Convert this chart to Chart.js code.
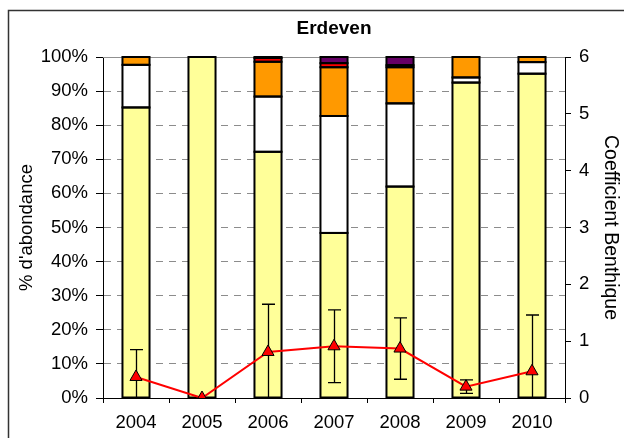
<!DOCTYPE html>
<html>
<head>
<meta charset="utf-8">
<title>Erdeven</title>
<script src="https://cdn.jsdelivr.net/npm/chart.js@4.4.1/dist/chart.umd.min.js"></script>
<style>
  html, body { margin: 0; padding: 0; background: #fff; overflow: hidden; }
  #wrap { width: 624px; height: 438px; }
</style>
</head>
<body>
<div id="wrap"><canvas id="chart" width="624" height="438"></canvas></div>
<script>
// years sampled
const years = ['2004', '2005', '2006', '2007', '2008', '2009', '2010'];

// % of abundance per ecological group (stacked to 100%)
const groupI   = [85.2, 100, 72.2, 48.4, 62.0, 92.5, 95.1];
const groupII  = [12.5, 0, 16.2, 34.3, 24.4, 1.5, 3.4];
const groupIII = [2.3, 0, 10.2, 14.3, 10.6, 6.0, 1.5];
const groupIV  = [0, 0, 1.1, 1.2, 0.6, 0, 0];
const groupV   = [0, 0, 0.3, 1.8, 2.4, 0, 0];

// benthic coefficient and its standard deviation
const coefBenthique = [0.37, 0, 0.81, 0.91, 0.87, 0.2, 0.47];
const coefErr       = [0.48, 0, 0.84, 0.64, 0.54, 0.12, 0.99];

const FONT = "'Liberation Sans', Arial, sans-serif";
const TICK_SIZE = 18.5;

// outer frame + solid top edge of the plot area
const framePlugin = {
    id: 'frame',
    beforeDraw(chart) {
        const ctx = chart.ctx;
        ctx.save();
        ctx.fillStyle = '#fff';
        ctx.fillRect(0, 0, chart.width, chart.height);
        ctx.strokeStyle = '#333';
        ctx.lineWidth = 1.5;
        ctx.beginPath();
        ctx.moveTo(8.5, chart.height + 5);
        ctx.lineTo(8.5, 10.5);
        ctx.lineTo(chart.width + 5, 10.5);
        ctx.stroke();
        ctx.restore();
    },
    beforeDatasetsDraw(chart) {
        const a = chart.chartArea;
        const ctx = chart.ctx;
        ctx.save();
        ctx.strokeStyle = '#909090';
        ctx.lineWidth = 1;
        ctx.beginPath();
        ctx.moveTo(a.left, a.top + 0.5);
        ctx.lineTo(a.right, a.top + 0.5);
        ctx.stroke();
        ctx.restore();
    }
};

// black outline of every bar segment, then the error bars of the
// coefficient series (all drawn just before its line and markers)
const overlayPlugin = {
    id: 'overlay',
    beforeDatasetDraw(chart, args) {
        const ds = chart.data.datasets[args.index];
        if (!ds.errors) return;
        const ctx = chart.ctx;

        ctx.save();
        ctx.strokeStyle = '#000';
        ctx.lineWidth = 2;
        chart.data.datasets.forEach((d, di) => {
            if (d.type !== 'bar') return;
            chart.getDatasetMeta(di).data.forEach((bar, i) => {
                if (!d.data[i]) return;
                const p = bar.getProps(['x', 'y', 'base', 'width'], true);
                ctx.strokeRect(p.x - p.width / 2, p.y, p.width, p.base - p.y);
            });
        });
        ctx.restore();

        const meta = chart.getDatasetMeta(args.index);
        const scale = chart.scales[ds.yAxisID];
        ctx.save();
        ctx.strokeStyle = '#000';
        ctx.lineWidth = 1.3;
        meta.data.forEach((pt, i) => {
            const v = ds.data[i];
            const e = ds.errors[i];
            if (!e) return;
            const hi = v + e;
            const lo = Math.max(0, v - e);
            const yHi = scale.getPixelForValue(hi);
            const yLo = scale.getPixelForValue(lo);
            const x = Math.round(pt.x) + 0.5;
            ctx.beginPath();
            ctx.moveTo(x, yLo);
            ctx.lineTo(x, yHi);
            ctx.moveTo(x - 6.5, yHi);
            ctx.lineTo(x + 6.5, yHi);
            if (v - e >= 0) {
                ctx.moveTo(x - 6.5, yLo);
                ctx.lineTo(x + 6.5, yLo);
            }
            ctx.stroke();
        });
        ctx.restore();
    }
};

function barSet(label, values, color) {
    return {
        type: 'bar',
        label: label,
        data: values,
        backgroundColor: color,
        borderWidth: 0,
        inflateAmount: 0,
        yAxisID: 'y',
        order: 2,
        categoryPercentage: 1,
        barPercentage: 0.41
    };
}

const ctx = document.getElementById('chart').getContext('2d');
const chart = new Chart(ctx, {
    data: {
        labels: years,
        datasets: [
            barSet('I', groupI, '#FFFF99'),
            barSet('II', groupII, '#FFFFFF'),
            barSet('III', groupIII, '#FF9900'),
            barSet('IV', groupIV, '#FF0000'),
            barSet('V', groupV, '#660066'),
            {
                type: 'line',
                label: 'Coefficient Benthique',
                data: coefBenthique,
                errors: coefErr,
                yAxisID: 'y1',
                order: 0,
                borderColor: '#FF0000',
                borderWidth: 2,
                tension: 0,
                pointStyle: 'triangle',
                pointRadius: 7,
                pointBackgroundColor: '#FF0000',
                pointBorderColor: '#000',
                pointBorderWidth: 1
            }
        ]
    },
    options: {
        responsive: false,
        animation: false,
        devicePixelRatio: 1,
        layout: { padding: 0 },
        plugins: {
            legend: { display: false },
            tooltip: { enabled: false },
            title: {
                display: true,
                fullSize: false,
                text: 'Erdeven',
                color: '#000',
                font: { family: FONT, size: 19, weight: 'bold', lineHeight: 1.2 },
                padding: { top: 17, bottom: 17.2 }
            }
        },
        scales: {
            x: {
                stacked: true,
                offset: true,
                grid: {
                    offset: true,
                    drawOnChartArea: false,
                    drawTicks: true,
                    tickLength: 5,
                    tickColor: '#000'
                },
                border: { color: '#000', width: 1 },
                ticks: {
                    color: '#000',
                    padding: 9,
                    font: { family: FONT, size: TICK_SIZE },
                    maxRotation: 0
                },
                afterFit(scale) { scale.height = 40; }
            },
            y: {
                stacked: true,
                position: 'left',
                min: 0,
                max: 100,
                grid: {
                    color: c => (c.tick && (c.tick.value === 0 || c.tick.value === 100)) ? 'rgba(0,0,0,0)' : '#8c8c8c',
                    lineWidth: 1,
                    drawTicks: true,
                    tickLength: 7,
                    tickColor: '#000',
                    tickBorderDash: []
                },
                border: { color: '#000', width: 1, dash: [7, 6] },
                ticks: {
                    stepSize: 10,
                    color: '#000',
                    padding: 8,
                    font: { family: FONT, size: TICK_SIZE },
                    callback: v => v + '%'
                },
                title: {
                    display: true,
                    text: "% d'abondance",
                    color: '#000',
                    font: { family: FONT, size: TICK_SIZE },
                    padding: { top: 16, bottom: 0 }
                },
                afterFit(scale) { scale.width = 103; }
            },
            y1: {
                position: 'right',
                min: 0,
                max: 6,
                grid: {
                    drawOnChartArea: false,
                    drawTicks: true,
                    tickLength: 6,
                    tickColor: '#000'
                },
                border: { color: '#000', width: 1 },
                ticks: {
                    stepSize: 1,
                    color: '#000',
                    padding: 8,
                    font: { family: FONT, size: TICK_SIZE }
                },
                title: {
                    display: true,
                    text: 'Coefficient Benthique',
                    color: '#000',
                    font: { family: FONT, size: 19.5 },
                    padding: { top: 2, bottom: 0 }
                },
                afterFit(scale) { scale.width = 59; }
            }
        }
    },
    plugins: [framePlugin, overlayPlugin]
});
</script>
</body>
</html>
